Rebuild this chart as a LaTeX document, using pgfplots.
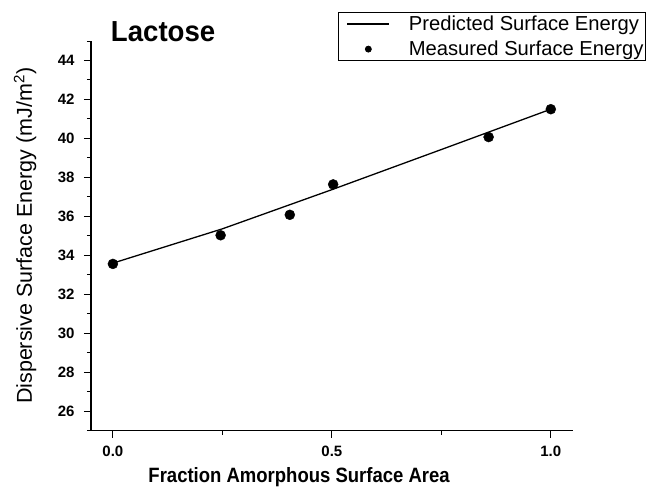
\documentclass[border=0pt]{standalone}
\usepackage{fontspec}
\setmainfont{Liberation Sans}
\usepackage{pgfplots}
\pgfplotsset{compat=1.18}
\begin{document}
\begin{tikzpicture}
\useasboundingbox (-91pt,-57.3pt) rectangle (558pt,430.7pt);
\begin{axis}[
  scale only axis, width=481.7pt, height=389.7pt,
  at={(0pt,0pt)}, anchor=south west,
  xmin=-0.05, xmax=1.05, ymin=25, ymax=45,
  axis lines=left, axis line style={-, line width=1.1pt},
  tick align=outside, major tick length=7pt, minor tick length=4pt,
  tick style={line width=1pt, black},
  xtick={0,0.5,1}, xticklabels={0.0,0.5,1.0}, minor xtick={0.25,0.75},
  ytick={26,28,...,44}, minor ytick={25,27,...,45},
  /pgf/number format/assume math mode=true,
  ticklabel style={font=\bfseries\fontsize{15}{16}\selectfont},
  xticklabel style={yshift=-5pt},
  yticklabel style={xshift=-6pt},
  xlabel={\scalebox{1}[1.12]{Fraction Amorphous Surface Area}},
  ylabel={Dispersive Surface Energy (mJ/m\textsuperscript{2})},
  xlabel style={font=\bfseries\fontsize{18.5}{20}\selectfont, at={(axis description cs:0.432,-0.1325)}, anchor=base},
  ylabel style={font=\fontsize{21.5}{23}\selectfont, at={(axis description cs:-0.137,0.5)}, anchor=center},
  legend style={at={(1.152,1.0744)}, anchor=north east, draw=black, line width=0.8pt,
    font=\fontsize{20.2}{24}\selectfont, inner xsep=0pt, inner ysep=1.5pt, row sep=5pt},
  legend cell align=left,
  clip=false,
]
\addplot[black, line width=1.3pt, legend image code/.code={\draw[line width=1.2pt] (9pt,0pt) -- (51pt,0pt); \path[draw=none,fill=none] (0pt,0pt) -- (68.5pt,0pt);}]
  coordinates {(0,33.6) (0.25,35.36) (0.5,37.37) (0.75,39.43) (1,41.5)};
\addlegendentry{Predicted Surface Energy}
\addplot[only marks, mark=*, mark size=5pt, black, legend image code/.code={\fill (30pt,0pt) circle (3pt); \path[draw=none,fill=none] (0pt,0pt) -- (68.5pt,0pt);}]
  coordinates {(0,33.56) (0.246,35.03) (0.404,36.08) (0.503,37.64) (0.858,40.07) (1.0,41.5)};
\addlegendentry{Measured Surface Energy}
\node[anchor=base west, font=\bfseries\fontsize{27.6}{30}\selectfont, inner sep=0pt] at (rel axis cs:0.041,0.998) {\scalebox{1}[1.05]{Lactose}};
\end{axis}
\end{tikzpicture}
\end{document}
